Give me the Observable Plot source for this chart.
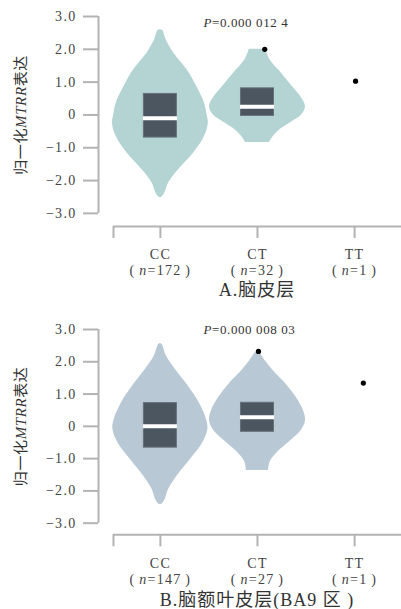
<!DOCTYPE html>
<html><head><meta charset="utf-8">
<script src="https://cdn.jsdelivr.net/npm/d3@7"></script>
<script src="https://cdn.jsdelivr.net/npm/@observablehq/plot@0.6"></script>
<style>
body{margin:0;background:#fff;}
#root{position:relative;width:401px;height:609px;overflow:hidden;background:#fff;}
.panel{position:absolute;left:0;}
.cap{position:absolute;left:113px;width:288px;text-align:center;font-size:18px;line-height:20px;font-family:"Liberation Serif","Noto Sans CJK SC",serif;color:#333;letter-spacing:1px;}
</style></head>
<body><div id="root"></div>
<script>
// ---- data ----
const categories = ["CC", "CT", "TT"];
const yTicks = [-3, -2, -1, 0, 1, 2, 3];
const yLabel = "归一化MTRR表达";

// Panel A: 脑皮层
const captionA = "A.脑皮层";
const nA = [172, 32, 1];
const pA = "P=0.000 012 4";
const violinA_CC = [[2.60,0.00],[2.57,0.05],[2.29,0.12],[1.88,0.28],[1.37,0.56],[0.86,0.76],[0.36,0.92],[-0.05,0.98],[-0.25,1.00],[-0.66,0.92],[-1.17,0.69],[-1.68,0.375],[-2.08,0.17],[-2.39,0.09],[-2.49,0.04],[-2.52,0.00]];
const violinA_CT = [[2.00,0.17],[1.68,0.26],[1.27,0.50],[0.86,0.73],[0.56,0.90],[0.25,1.00],[0.00,0.92],[-0.25,0.67],[-0.46,0.46],[-0.66,0.33],[-0.84,0.25]];
const boxCatsA = ["CC", "CT"];
const q1A = [-0.69, -0.03];
const medA = [-0.10, 0.25];
const q3A = [0.64, 0.81];
const outCatsA = ["CT", "TT"];
const outValsA = [2.00, 1.03];
const outJitterA = [0.075, 0.01];

// Panel B: 脑额叶皮层(BA9区)
const captionB = "B.脑额叶皮层(BA9\u2005区\u2005)";
const nB = [147, 27, 1];
const pB = "P=0.000 008 03";
const violinB_CC = [[2.57,0.00],[2.53,0.04],[2.18,0.125],[1.77,0.31],[1.25,0.58],[0.73,0.81],[0.22,0.96],[-0.09,0.99],[-0.51,0.885],[-1.03,0.625],[-1.54,0.35],[-1.96,0.17],[-2.27,0.10],[-2.40,0.04],[-2.43,0.00]];
const violinB_CT = [[2.31,0.00],[2.27,0.05],[2.03,0.16],[1.72,0.33],[1.30,0.60],[0.89,0.81],[0.48,0.96],[0.16,1.00],[-0.15,0.90],[-0.46,0.68],[-0.77,0.44],[-1.08,0.27],[-1.37,0.23]];
const boxCatsB = ["CC", "CT"];
const q1B = [-0.66, -0.17];
const medB = [0.00, 0.28];
const q3B = [0.72, 0.73];
const outCatsB = ["CT", "TT"];
const outValsB = [2.32, 1.34];
const outJitterB = [0.01, 0.09];

// ---- style / layout ----
const xDomain = [0.3628, 3.483];
const pxPerX = 303 / (xDomain[1] - xDomain[0]);
const bracketStart = xDomain[0] + 15 / pxPerX;
const yLabelX = xDomain[0] - 77 / pxPerX;
const violinHalf = 0.494;
const boxHalf = 0.17;
const axisColor = "#b3b3b3";
const textColor = "#444";
const boxColor = "#4b5661";
const serif = '"Liberation Serif","Noto Sans CJK SC",serif';
const pos = c => categories.indexOf(c) + 1;

function italicize(svg) {
  const ns = "http://www.w3.org/2000/svg";
  const re = /(MTRR|n(?==)|P(?==))/;
  svg.querySelectorAll("text, tspan").forEach(el => {
    for (const node of Array.from(el.childNodes)) {
      if (node.nodeType !== 3) continue;
      const parts = node.textContent.split(re);
      if (parts.length === 1) continue;
      const frag = document.createDocumentFragment();
      parts.forEach((p, i) => {
        if (!p) return;
        if (i % 2 === 1) {
          const t = document.createElementNS(ns, "tspan");
          t.setAttribute("font-style", "italic");
          t.textContent = p;
          frag.appendChild(t);
        } else frag.appendChild(document.createTextNode(p));
      });
      el.replaceChild(frag, node);
    }
  });
}

function panel({violins, fill, boxCats, q1, med, q3, outCats, outVals, outJitter, n, p, pY, yMin, axisPx}) {
  const vData = [];
  for (const [cat, arr] of violins) for (const [v, d] of arr) vData.push({cat, v, d});
  const boxes = boxCats.map((c, i) => ({cat: c, q1: q1[i], med: med[i], q3: q3[i]}));
  const outs = outCats.map((c, i) => ({cat: c, v: outVals[i], j: outJitter[i]}));
  const svg = Plot.plot({
    width: 401, height: 280,
    marginLeft: 98, marginRight: 0, marginTop: 16, marginBottom: 280 - axisPx,
    x: {type: "linear", domain: xDomain},
    y: {domain: [yMin, 3.0]},
    style: {fontFamily: serif, fontSize: "14px", color: textColor, background: "white", overflow: "visible"},
    marks: [
      Plot.ruleX([xDomain[0]], {y1: -3, y2: 3, stroke: axisColor, strokeWidth: 2}),
      Plot.axisY({ticks: yTicks, tickSize: 15, tickPadding: 7, label: null, stroke: axisColor, strokeWidth: 2, fill: textColor, fontSize: 14,
        tickFormat: d => d === 0 ? "0" : (d < 0 ? "−" : "") + Math.abs(d).toFixed(1)}),
      Plot.ruleY([yMin], {x1: bracketStart, x2: xDomain[1], stroke: axisColor, strokeWidth: 2}),
      Plot.axisX({ticks: [bracketStart, 1, 2, 3], tickSize: 12, tickPadding: 11, label: null, stroke: axisColor, strokeWidth: 2, fill: textColor, fontSize: 14,
        tickFormat: d => Number.isInteger(d) ? categories[d - 1] : ""}),
      Plot.axisX({ticks: [1, 2, 3], tickSize: 0, tickPadding: 39, label: null, fill: textColor, fontSize: 14,
        tickFormat: d => `(\u2006n=${n[d - 1]}\u2006)`}),
      Plot.areaX(vData, {y: "v", x1: r => pos(r.cat) - r.d * violinHalf, x2: r => pos(r.cat) + r.d * violinHalf, z: "cat", fill, curve: "catmull-rom"}),
      Plot.rect(boxes, {x1: r => pos(r.cat) - boxHalf, x2: r => pos(r.cat) + boxHalf, y1: "q1", y2: "q3", fill: boxColor, stroke: "#67707a", strokeWidth: 1}),
      Plot.ruleY(boxes, {y: "med", x1: r => pos(r.cat) - boxHalf - 0.006, x2: r => pos(r.cat) + boxHalf + 0.006, stroke: "white", strokeWidth: 4}),
      Plot.dot(outs, {x: r => pos(r.cat) + r.j, y: "v", r: 2.6, fill: "black"}),
      Plot.text([p], {x: 2, y: pY, dx: -54, textAnchor: "start", fontSize: 13, fill: "#333"}),
      Plot.text([yLabel], {x: yLabelX, y: 0, textAnchor: "middle", rotate: -90, fontSize: 15, fill: "#333"})
    ]
  });
  svg.querySelectorAll("text").forEach(t => { t.setAttribute("letter-spacing", "0.6"); t.style.fontFamily = serif; });
  svg.querySelectorAll('[aria-label$="tick label"] text').forEach(t => t.setAttribute("letter-spacing", "1.3"));
  italicize(svg);
  return svg;
}

const root = document.getElementById("root");
function place(el, top) { el.classList.add("panel"); el.style.top = top + "px"; root.appendChild(el); }

const svgA = panel({violins: [["CC", violinA_CC], ["CT", violinA_CT]], fill: "#b3d4d3",
  boxCats: boxCatsA, q1: q1A, med: medA, q3: q3A, outCats: outCatsA, outVals: outValsA, outJitter: outJitterA,
  n: nA, p: pA, pY: 2.81, yMin: -3.4, axisPx: 226});
place(svgA, 0);

const svgB = panel({violins: [["CC", violinB_CC], ["CT", violinB_CT]], fill: "#b9c8d5",
  boxCats: boxCatsB, q1: q1B, med: medB, q3: q3B, outCats: outCatsB, outVals: outValsB, outJitter: outJitterB,
  n: nB, p: pB, pY: 3.0, yMin: -3.36, axisPx: 221.3});
place(svgB, 313);

const capA = document.createElement("div"); capA.className = "cap"; capA.style.top = "280px"; capA.textContent = captionA; root.appendChild(capA);
const capB = document.createElement("div"); capB.className = "cap"; capB.style.top = "590px"; capB.textContent = captionB; root.appendChild(capB);
</script>
</body></html>
